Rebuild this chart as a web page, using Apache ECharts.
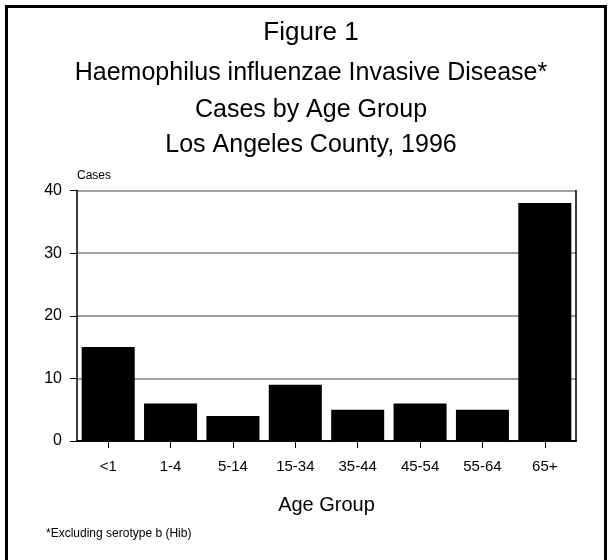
<!DOCTYPE html>
<html>
<head>
<meta charset="utf-8">
<script src="https://cdn.jsdelivr.net/npm/echarts@6/dist/echarts.min.js"></script>
<style>
html,body{margin:0;padding:0;background:#fff;}
#chart{width:613px;height:560px;}
</style>
</head>
<body>
<div id="chart"></div>
<script>
const categories = ['<1', '1-4', '5-14', '15-34', '35-44', '45-54', '55-64', '65+'];
const cases = [15, 6, 4, 9, 5, 6, 5, 38];
const yTicks = { min: 0, max: 40, interval: 10 };
const titleLines = [
  'Figure 1',
  'Haemophilus influenzae Invasive Disease*',
  'Cases by Age Group',
  'Los Angeles County, 1996'
];
const yAxisTitle = 'Cases';
const xAxisTitle = 'Age Group';
const footnote = '*Excluding serotype b (Hib)';

const FONT = '"Liberation Sans", Arial, Helvetica, sans-serif';
const chart = echarts.init(document.getElementById('chart'), null, { renderer: 'canvas' });

const titleY = [33, 73, 110, 145];
const titleSize = [26, 25, 25, 25];
const graphics = [
  { type: 'rect', shape: { x: 6.5, y: 6.5, width: 599, height: 600 },
    style: { fill: 'none', stroke: '#000', lineWidth: 3 }, silent: true }
];
titleLines.forEach((t, i) => {
  graphics.push({ type: 'text', x: 311, y: titleY[i],
    style: { text: t, font: titleSize[i] + 'px ' + FONT, fill: '#000', textAlign: 'center', textVerticalAlign: 'middle' } });
});
graphics.push({ type: 'text', x: 46, y: 534,
  style: { text: footnote, font: '12px ' + FONT, fill: '#000', textAlign: 'left', textVerticalAlign: 'middle' } });

const option = {
  animation: false,
  backgroundColor: '#fff',
  grid: { left: 77, right: 37, top: 190.5, bottom: 119, containLabel: false },
  xAxis: [{
    type: 'category',
    data: categories,
    position: 'bottom',
    name: xAxisTitle,
    nameLocation: 'middle',
    nameGap: 54,
    nameTextStyle: { fontSize: 20, fontFamily: FONT, color: '#000' },
    axisLine: { show: true, lineStyle: { color: '#000', width: 1.5 } },
    axisTick: { show: true, alignWithLabel: true, length: 7, lineStyle: { color: '#000', width: 1 } },
    axisLabel: { fontSize: 15, fontFamily: FONT, color: '#000', margin: 18 },
    splitLine: { show: false }
  }, {
    type: 'category',
    data: categories,
    position: 'top',
    axisLine: { show: true, lineStyle: { color: '#000', width: 1.5 } },
    axisTick: { show: false },
    axisLabel: { show: false }
  }],
  yAxis: [{
    type: 'value',
    min: yTicks.min, max: yTicks.max, interval: yTicks.interval,
    position: 'left',
    name: yAxisTitle,
    nameLocation: 'end',
    nameGap: 9,
    nameTextStyle: { fontSize: 12, fontFamily: FONT, color: '#000', align: 'left', verticalAlign: 'bottom' },
    axisLine: { show: true, lineStyle: { color: '#000', width: 1.5 } },
    axisTick: { show: true, length: 7, lineStyle: { color: '#000', width: 1 } },
    axisLabel: { fontSize: 16, fontFamily: FONT, color: '#000', margin: 15 },
    splitLine: { show: true, lineStyle: { color: '#808080', width: 1.5 } }
  }, {
    type: 'value',
    min: yTicks.min, max: yTicks.max, interval: yTicks.interval,
    position: 'right',
    axisLine: { show: true, lineStyle: { color: '#000', width: 1.5 } },
    axisTick: { show: false },
    axisLabel: { show: false },
    splitLine: { show: false }
  }],
  series: [{
    type: 'bar',
    data: cases,
    xAxisIndex: 0,
    yAxisIndex: 0,
    barCategoryGap: '15%',
    itemStyle: { color: '#000' },
    z: 3
  }],
  graphic: graphics
};
chart.setOption(option);
</script>
</body>
</html>
